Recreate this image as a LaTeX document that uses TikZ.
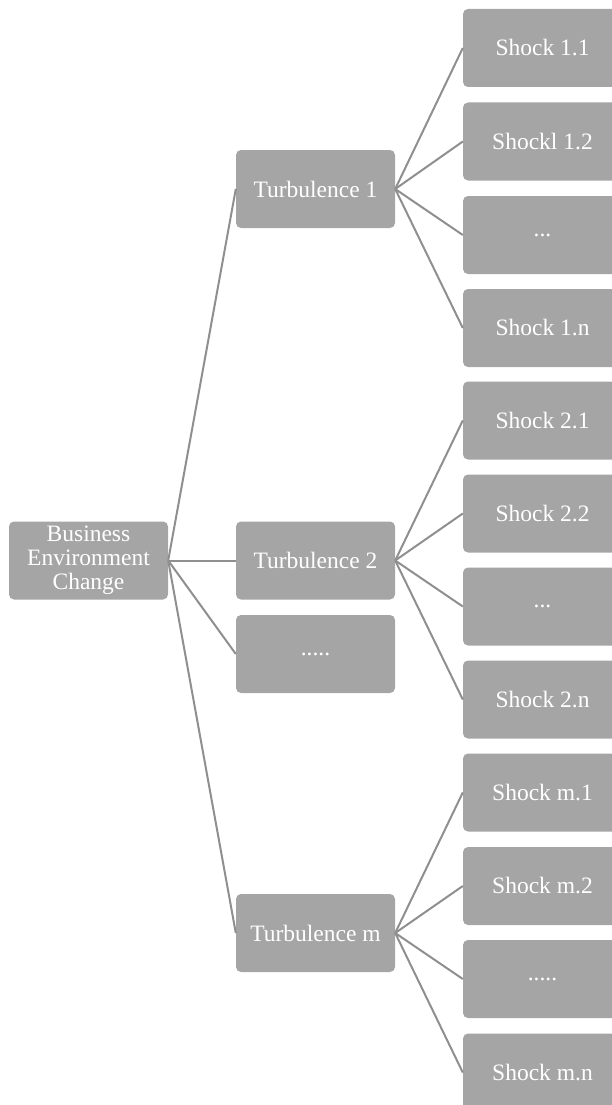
\documentclass[tikz,border=0pt]{standalone}
\usepackage{fontspec}
\setmainfont{Liberation Serif}
\definecolor{boxgray}{HTML}{A5A5A5}
\definecolor{linegray}{HTML}{8F8F8F}
\tikzset{
  box/.style={fill=boxgray, rounded corners=5pt, minimum width=159pt, minimum height=78pt,
    inner sep=0pt, align=center, text=white, font=\fontsize{23.5}{24}\selectfont},
  link/.style={draw=linegray, line width=2pt}
}
\begin{document}
\begin{tikzpicture}[x=1pt, y=-1pt]
\useasboundingbox (0,0) rectangle (612,1105);
% корень
                \node [box] (root) at ( 88.5, 560.5 ) {Business\\Environment\\Change};
% турбулентности
                \node [box] (turb1) at ( 315.5, 189 ) {Turbulence 1};
                \node [box] (turb2) at ( 315.5, 560.5 ) {Turbulence 2};
                \node [box] (turbdots) at ( 315.5, 654 ) {.....};
                \node [box] (turbm) at ( 315.5, 933 ) {Turbulence m};
% шоки
                \node [box] (shock11) at ( 542.5, 48 ) {Shock 1.1};
                \node [box] (shock12) at ( 542.5, 141.5 ) {Shockl 1.2};
                \node [box] (shock1dots) at ( 542.5, 235 ) {...};
                \node [box] (shock1n) at ( 542.5, 328 ) {Shock 1.n};
                \node [box] (shock21) at ( 542.5, 420.5 ) {Shock 2.1};
                \node [box] (shock22) at ( 542.5, 513.5 ) {Shock 2.2};
                \node [box] (shock2dots) at ( 542.5, 606.5 ) {...};
                \node [box] (shock2n) at ( 542.5, 699.5 ) {Shock 2.n};
                \node [box] (shockm1) at ( 542.5, 792.5 ) {Shock m.1};
                \node [box] (shockm2) at ( 542.5, 886 ) {Shock m.2};
                \node [box] (shockmdots) at ( 542.5, 979 ) {.....};
                \node [box] (shockmn) at ( 542.5, 1072.5 ) {Shock m.n};
% связи
                \draw [link] (root.east) -- (turb1.west);
                \draw [link] (root.east) -- (turb2.west);
                \draw [link] (root.east) -- (turbdots.west);
                \draw [link] (root.east) -- (turbm.west);
                \draw [link] (turb1.east) -- (shock11.west);
                \draw [link] (turb1.east) -- (shock12.west);
                \draw [link] (turb1.east) -- (shock1dots.west);
                \draw [link] (turb1.east) -- (shock1n.west);
                \draw [link] (turb2.east) -- (shock21.west);
                \draw [link] (turb2.east) -- (shock22.west);
                \draw [link] (turb2.east) -- (shock2dots.west);
                \draw [link] (turb2.east) -- (shock2n.west);
                \draw [link] (turbm.east) -- (shockm1.west);
                \draw [link] (turbm.east) -- (shockm2.west);
                \draw [link] (turbm.east) -- (shockmdots.west);
                \draw [link] (turbm.east) -- (shockmn.west);
\end{tikzpicture}
\end{document}
